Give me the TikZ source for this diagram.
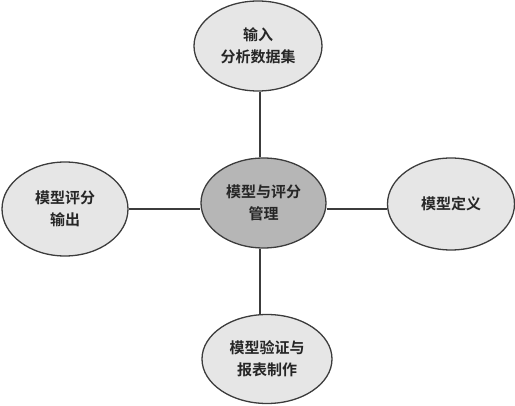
\documentclass[tikz,border=0pt]{standalone}
\usepackage{fontspec}
\setmainfont{Noto Sans CJK SC}[BoldFont={Noto Sans CJK SC Bold}]
\usetikzlibrary{shapes.geometric}
\definecolor{edge}{HTML}{3C3C3C}
\definecolor{lightfill}{HTML}{E6E6E6}
\definecolor{midfill}{HTML}{B6B6B6}
\definecolor{txt}{HTML}{262626}
\tikzset{
  bubble/.style={ellipse, draw=edge, line width=1.3pt, fill=lightfill, inner sep=0pt,
    text=txt, align=center, font=\fontsize{15}{22}\selectfont\bfseries},
  hub/.style={bubble, fill=midfill},
  link/.style={draw=edge, line width=1.5pt}
}
\begin{document}
\begin{tikzpicture}[x=1pt,y=-1pt]
\useasboundingbox (0,0) rectangle (515,406);
\node[hub, minimum width=125pt, minimum height=90pt] (c) at (263.5,203) {模型与评分\\管理};
\node[bubble, minimum width=128pt, minimum height=90pt] (t) at (258,46) {输入\\分析数据集};
\node[bubble, minimum width=126pt, minimum height=94pt] (l) at (65,209) {模型评分\\输出};
\node[bubble, minimum width=127pt, minimum height=92pt] (r) at (451,204) {模型定义};
\node[bubble, minimum width=130pt, minimum height=89pt] (b) at (267,359) {模型验证与\\报表制作};
\coordinate (vx) at (260,0);
\coordinate (hy) at (0,209);
\draw[link] (c.north -| vx) -- (t.south -| vx);
\draw[link] (c.south -| vx) -- (b.north -| vx);
\draw[link] (c.west |- hy) -- (l.east |- hy);
\draw[link] (c.east |- hy) -- (r.west |- hy);
\end{tikzpicture}
\end{document}
